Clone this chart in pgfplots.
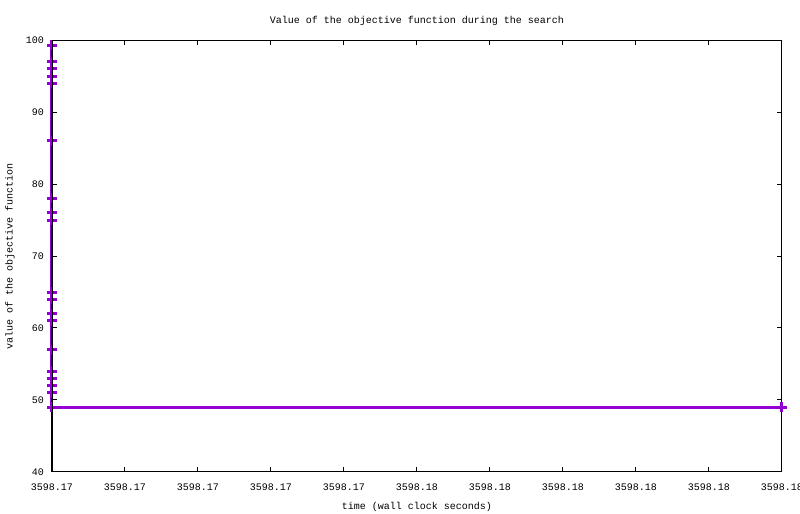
\documentclass[border=0pt]{standalone}
\usepackage{pgfplots}
\pgfplotsset{compat=1.18}
\usepackage{fontspec}
\setmainfont{Liberation Mono}
\definecolor{gpviolet}{HTML}{9400D3}
\begin{document}
\begin{tikzpicture}
\path[use as bounding box] (0,0) rectangle (400pt,257pt);
\begin{axis}[
  name=ax,
  at={(26pt,21pt)}, anchor=south west,
  scale only axis, width=365pt, height=216pt,
  xmin=0, xmax=10, ymin=40, ymax=100,
  xtick={0,1,...,10},
  xticklabels={3598.17,3598.17,3598.17,3598.17,3598.17,3598.18,3598.18,3598.18,3598.18,3598.18,3598.18},
  ytick={40,50,...,100},
  tick align=inside, major tick length=2.5pt,
  axis line style={line width=0.5pt},
  every tick/.style={black, line width=0.5pt},
  font=\fontsize{5}{6}\selectfont,
  ticklabel style={font=\fontsize{5}{6}\selectfont},
  /pgf/number format/assume math mode=true,
  xticklabel style={yshift=-2.5pt},
  yticklabel style={xshift=-0.5pt},
  title={Value of the objective function during the search},
  title style={at={(axis description cs:0.5,1)}, anchor=center, yshift=3.5pt},
  xlabel={time (wall clock seconds)},
  ylabel={value of the objective function},
  xlabel style={at={(axis description cs:0.5,0)}, anchor=center, yshift=-17.5pt},
  ylabel style={at={(axis description cs:-0.0575,0.5)}, anchor=center, rotate=0},
  clip=false,
  axis on top,
]
\addplot[gpviolet, line width=1.5pt, mark=+, mark size=2.5pt, mark options={line width=1.5pt}] coordinates {
(0,99.3) (0,97) (0,96) (0,95) (0,94) (0,86) (0,78) (0,76) (0,75)
(0,65) (0,64) (0,62) (0,61) (0,57) (0,54) (0,53) (0,52) (0,51) (0,49)
(10,49)
};
\end{axis}
\draw[black, line width=0.5pt] (ax.south west) -- (ax.north west);
\end{tikzpicture}
\end{document}
